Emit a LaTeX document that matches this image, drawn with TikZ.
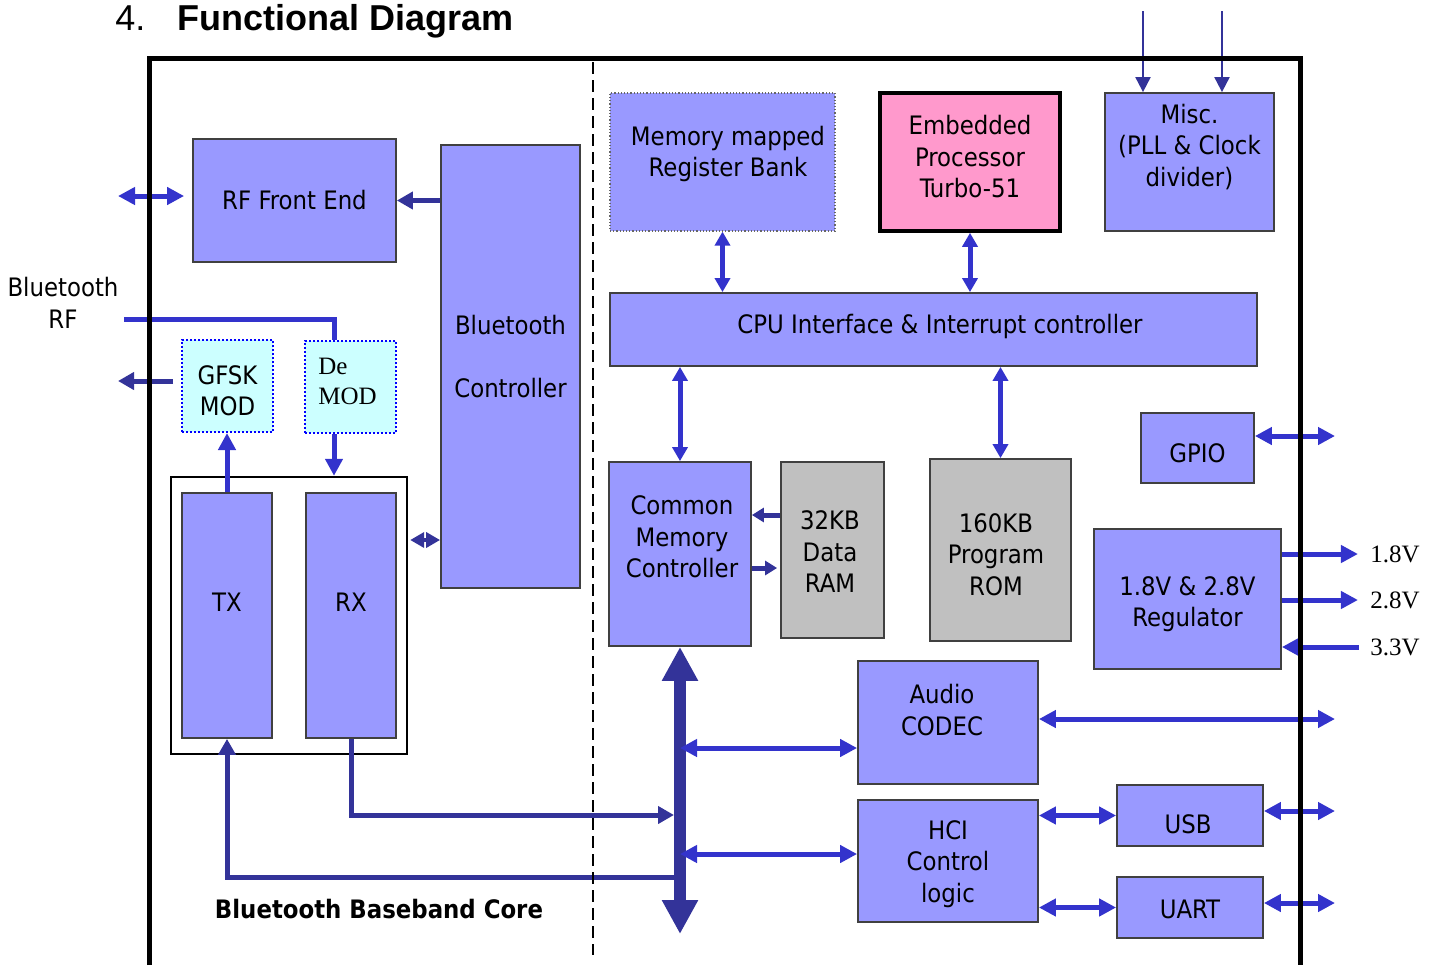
\documentclass[tikz,border=0pt]{standalone}
\usepackage{fontspec}
\setmainfont{DejaVu Sans Condensed}
\newfontfamily\headfont{Liberation Sans}
\newfontfamily\voltfont{Liberation Serif}
\usetikzlibrary{arrows.meta,calc}
\definecolor{boxblue}{HTML}{9999FF}
\definecolor{ramgray}{HTML}{C0C0C0}
\definecolor{modcyan}{HTML}{CCFFFF}
\definecolor{dotblue}{HTML}{0000FF}
\definecolor{procpink}{HTML}{FF99CC}
\definecolor{sigblue}{HTML}{3333CC}
\definecolor{dkblue}{HTML}{333399}
\begin{document}
\begin{tikzpicture}[x=0.5pt, y=-0.5pt,
  font=\fontsize{12.7}{15.75}\selectfont,
  blk/.style={draw=black!75, line width=0.9pt, fill=boxblue, inner sep=0pt, align=center},
  gry/.style={blk, fill=ramgray},
  modbox/.style={blk, fill=modcyan, draw=dotblue, line width=1pt, dash pattern=on 1pt off 1pt},
  encl/.style={draw=black, line width=1.2pt, fill=white, inner sep=0pt},
  txt/.style={inner sep=0pt, align=center},
  volt/.style={inner sep=0pt, font=\voltfont\fontsize{12.5}{15}\selectfont},
  rfl/.style={draw=sigblue, line width=2.5pt},
  sig/.style={draw=sigblue, line width=2.5pt, -{Triangle[length=8.5pt,width=8.5pt]}},
  dsig/.style={draw=sigblue, line width=2.5pt, {Triangle[length=8.5pt,width=8.5pt]}-{Triangle[length=8.5pt,width=8.5pt]}},
  vsig/.style={draw=sigblue, line width=2.5pt, {Triangle[length=7pt,width=7.5pt]}-{Triangle[length=7pt,width=7.5pt]}},
  dk/.style={draw=dkblue, line width=2.5pt, -{Triangle[length=8pt,width=8.5pt]}},
  dkshort/.style={draw=dkblue, line width=2.5pt, -{Triangle[length=6pt,width=7pt]}},
  dkd/.style={draw=dkblue, line width=2pt, {Triangle[length=7pt,width=7.5pt]}-{Triangle[length=7pt,width=7.5pt]}},
  bus/.style={draw=dkblue, line width=6pt, {Triangle[length=17pt,width=17pt]}-{Triangle[length=17pt,width=17pt]}},
  clk/.style={draw=dkblue, line width=1pt, -{Triangle[length=7.5pt,width=7.5pt]}}]
\useasboundingbox (0,0) rectangle (1436,965);

\node (num) [anchor=base west, inner sep=0pt, font=\headfont\fontsize{18}{20}\selectfont] at (115,30) {4.};
\node (title) [anchor=base west, inner sep=0pt, font=\headfont\bfseries\fontsize{18}{20}\selectfont] at (177,30) {Functional Diagram};

\node (btrf) [txt] at (63,303) {Bluetooth\\RF};
\coordinate (rfio) at (118,196);
\coordinate (rfin) at (124,319);
\coordinate (gfskout) at (118,381);

\node (rf) [blk, minimum width=101.5pt, minimum height=61.5pt] at (294.5,200.5) {RF Front End};
\node (btc) [blk, minimum width=69.5pt, minimum height=221.5pt] at (510.5,366.5) {};
\node (btc-t) [txt] at (510.5,356.5) {Bluetooth\\[15.75pt]Controller};
\node (gfsk) [modbox, minimum width=45.5pt, minimum height=46pt] at (227.5,386) {};
\node (gfsk-t) [txt] at (227.5,390.5) {GFSK\\MOD};
\node (demod) [modbox, minimum width=45.5pt, minimum height=46pt] at (350.5,387) {};
\node (demod-t) [txt, anchor=west, align=left, font=\voltfont\fontsize{12.5}{15}\selectfont] at (318,381) {De\\MOD};
\node (txrx) [encl, minimum width=118pt, minimum height=138.5pt] at (289,615.5) {};
\node (tx) [blk, minimum width=45pt, minimum height=122.5pt] at (227,615.5) {};
\node (tx-t) [txt] at (227,602) {TX};
\node (rx) [blk, minimum width=45pt, minimum height=122.5pt] at (351,615.5) {};
\node (rx-t) [txt] at (351,602) {RX};
\node (bbc) [txt, font=\bfseries\fontsize{12.7}{15.75}\selectfont] at (379,909) {Bluetooth Baseband Core};

\node (mmrb) [blk, draw=black!60, line width=0.6pt, densely dotted, minimum width=112.5pt, minimum height=69pt] at (722.5,162) {};
\node (mmrb-t) [txt] at (728,154) {Memory mapped\\Register Bank};
\node (emb) [blk, fill=procpink, draw=black, line width=1.8pt, minimum width=90pt, minimum height=69pt] at (970,162) {};
\node (emb-t) [txt] at (970,157) {Embedded\\Processor\\Turbo-51};
\node (misc) [blk, minimum width=84.5pt, minimum height=69pt] at (1189.5,162) {};
\node (misc-t) [txt] at (1189.5,147) {Misc.\\(PLL \& Clock\\divider)};
\coordinate (clk1) at (1143,11);
\coordinate (clk2) at (1222,11);

\node (cpu) [blk, minimum width=323.5pt, minimum height=36.5pt] at (933.5,329.5) {};
\node (cpu-t) [txt] at (940,326) {CPU Interface \& Interrupt controller};
\node (gpio) [blk, minimum width=56.5pt, minimum height=35pt] at (1197.5,448) {};
\node (gpio-t) [txt] at (1197.5,453) {GPIO};
\coordinate (gpioio) at (1335,436);

\node (cmc) [blk, minimum width=71pt, minimum height=92pt] at (680,554) {};
\node (cmc-t) [txt] at (682,537) {Common\\Memory\\Controller};
\node (ram) [gry, minimum width=51.5pt, minimum height=88pt] at (832.5,550) {};
\node (ram-t) [txt] at (830,552) {32KB\\Data\\RAM};
\node (rom) [gry, minimum width=70.5pt, minimum height=91pt] at (1000.5,550) {};
\node (rom-t) [txt] at (996,554.5) {160KB\\Program\\ROM};
\coordinate (busend) at (680,934);

\node (reg) [blk, minimum width=93.5pt, minimum height=70pt] at (1187.5,599) {};
\node (reg-t) [txt] at (1187.5,604) {1.8V \& 2.8V\\Regulator};
\node (v18) [volt] at (1395,554) {1.8V};
\node (v28) [volt] at (1395,600) {2.8V};
\node (v33) [volt] at (1395,647) {3.3V};

\node (audio) [blk, minimum width=90pt, minimum height=61.5pt] at (948,722.5) {};
\node (audio-t) [txt] at (942,710) {Audio\\CODEC};
\node (hci) [blk, minimum width=90pt, minimum height=61pt] at (948,861) {};
\node (hci-t) [txt] at (948,864) {HCI\\Control\\logic};
\node (usb) [blk, minimum width=73pt, minimum height=30.5pt] at (1190,815.5) {};
\node (usb-t) [txt] at (1188,824) {USB};
\node (uart) [blk, minimum width=73pt, minimum height=30.5pt] at (1190,907.5) {};
\node (uart-t) [txt] at (1190,909) {UART};
\coordinate (audioio) at (1335,719);
\coordinate (usbio) at (1335,811);
\coordinate (uartio) at (1335,903);

\draw[dsig] (rfio) -- ($(rf.west |- rfio)+(-8,0)$);
\draw[dk] (btc.west |- rf.east) -- (rf.east);
\draw[rfl] (rfin) -| ($(demod.north)+(-16.5,0)$);
\draw[dk] ($(gfsk.west |- gfskout)+(-8,0)$) -- (gfskout);
\draw[sig] (tx.north) -- (gfsk.south -| tx.north);
\draw[sig] ($(demod.south)+(-16.5,0)$) -- ($(txrx.north -| demod.south)+(-16.5,0)$);
\draw[dkd] ($(txrx.east)+(2,-75.5)$) -- ($(btc.west |- txrx.east)+(0,-75.5)$);

\draw[clk] (clk1) -- (clk1 |- misc.north);
\draw[clk] (clk2) -- (clk2 |- misc.north);
\draw[vsig] (mmrb.south) -- (mmrb.south |- cpu.north);
\draw[vsig] (emb.south) -- (emb.south |- cpu.north);
\draw[vsig] (cpu.south -| cmc.north) -- (cmc.north);
\draw[vsig] (cpu.south -| rom.north) -- (rom.north);
\draw[dsig] (gpio.east |- gpioio) -- (gpioio);
\draw[dkshort] (ram.west |- 0,515) -- (cmc.east |- 0,515);
\draw[dkshort] (cmc.east |- 0,568) -- ($(ram.west |- 0,568)+(-3,0)$);

\draw[bus] (cmc.south) -- (busend);
\draw[dk] (rx.south) |- ($(busend |- 0,815)+(-6,0)$);
\draw[dk] (busend |- 0,877) -| (tx.south);
\draw[dsig] (busend |- 0,748) -- (audio.west |- 0,748);
\draw[dsig] (busend |- 0,854) -- (hci.west |- 0,854);

\draw[sig] (reg.east |- v18) -- ($(v18.west)+(-12,0)$);
\draw[sig] (reg.east |- v28) -- ($(v28.west)+(-12,0)$);
\draw[sig] ($(v33.west)+(-11,0)$) -- (reg.east |- v33);
\draw[dsig] (audio.east |- audioio) -- (audioio);
\draw[dsig] (hci.east |- usb.west) -- (usb.west);
\draw[dsig] (hci.east |- uart.west) -- (uart.west);
\draw[dsig] (usb.east |- usbio) -- (usbio);
\draw[dsig] (uart.east |- uartio) -- (uartio);

\draw[line width=1pt, dash pattern=on 6pt off 3pt] (593,62) -- (593,955);
\draw[line width=2.5pt] (149,965) -- (149,58) -- (1300,58) -- (1300,965);
\end{tikzpicture}
\end{document}
